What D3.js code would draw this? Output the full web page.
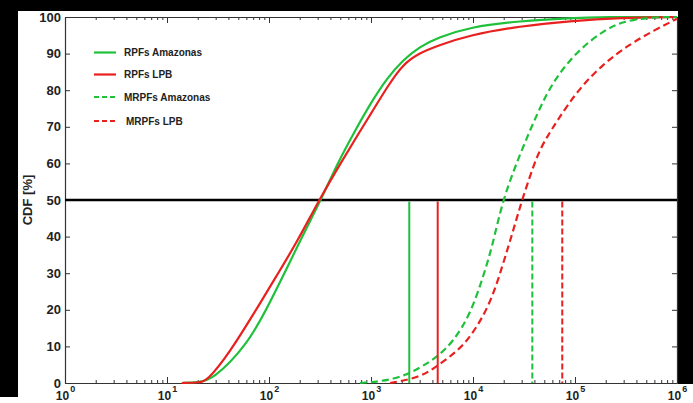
<!DOCTYPE html>
<html>
<head>
<meta charset="utf-8">
<script src="https://cdn.jsdelivr.net/npm/d3@7"></script>
<style>
  body { margin: 0; background: #fff; }
  svg { display: block; font-family: "Liberation Sans", Arial, sans-serif; }
  .axis path, .axis line { stroke: #333; }
  .axis text { font-weight: bold; fill: #222; }
</style>
</head>
<body>
<div id="chart"></div>
<script>
// CDF curves, values
var rpfAmazonasX = [14, 20, 28, 61, 96, 150, 215, 323, 464, 729, 980, 1435, 2060, 3020, 4440, 9340, 28900, 89500, 187000, 1e6];
var rpfAmazonasY = [0, 0.2, 0.8, 10.4, 20.5, 31.4, 40.4, 50, 59.8, 69.9, 76.2, 83.3, 88.3, 91.9, 94.3, 97.3, 98.9, 99.7, 100, 100];

var rpfLpbX = [14, 20, 24.7, 41.5, 69.7, 120, 188, 310, 497, 780, 980, 1435, 2060, 3020, 4440, 9340, 28900, 89500, 277000, 1e6];
var rpfLpbY = [0, 0.1, 0.4, 8.5, 18.6, 29.5, 38.5, 50, 59.8, 68.8, 73.2, 80.8, 87.2, 90.2, 92.1, 95.1, 97.5, 98.9, 99.8, 100];

var mrpfAmazonasX = [780, 1720, 3020, 4440, 6370, 9340, 12500, 15700, 19500, 28900, 42400, 60800, 105000, 188000, 296000, 582000, 1e6];
var mrpfAmazonasY = [0, 0.8, 4.1, 7.1, 11.2, 18.6, 28.7, 38, 50, 62.6, 73.5, 82.5, 90.7, 96.2, 98.9, 100, 100];

var mrpfLpbX = [1540, 3020, 4440, 6670, 9340, 14700, 19700, 24700, 30200, 42400, 53100, 66700, 105000, 188000, 347000, 582000, 1e6];
var mrpfLpbY = [0, 1.5, 4.6, 8.2, 12.3, 21.3, 32.5, 41.5, 50, 62.3, 67.2, 71.6, 79.8, 87.2, 92.6, 96.2, 99.5];

// vertical marker lines (from 0 to 50 %)
var markerX = [2373, 4508, 38150, 75000];

var seriesNames = ["RPFs Amazonas", "RPFs LPB", "MRPFs Amazonas", "MRPFs LPB"];
var yTicks = [0, 10, 20, 30, 40, 50, 60, 70, 80, 90, 100];
var xMajor = [1, 10, 100, 1000, 10000, 100000, 1000000];

var green = "#1fc13b", red = "#e8211f";
var series = [
  { name: seriesNames[0], xs: rpfAmazonasX, ys: rpfAmazonasY, color: green, dash: null },
  { name: seriesNames[1], xs: rpfLpbX, ys: rpfLpbY, color: red, dash: null },
  { name: seriesNames[2], xs: mrpfAmazonasX, ys: mrpfAmazonasY, color: green, dash: "7,4" },
  { name: seriesNames[3], xs: mrpfLpbX, ys: mrpfLpbY, color: red, dash: "7,4" }
];

var W = 693, H = 403;
var plotLeft = 65, plotRight = 677, plotTop = 17, plotBottom = 383;

var svg = d3.select("#chart").append("svg").attr("width", W).attr("height", H);

// black frame pieces of the original screenshot
svg.append("rect").attr("x", 0).attr("y", 0).attr("width", W).attr("height", 11).attr("fill", "#000");
svg.append("rect").attr("x", 0).attr("y", 0).attr("width", 18).attr("height", 397).attr("fill", "#000");
svg.append("rect").attr("x", 678).attr("y", 0).attr("width", 15).attr("height", 384).attr("fill", "#000");

var x = d3.scaleLog().domain([1, 1e6]).range([plotLeft, plotRight]);
var y = d3.scaleLinear().domain([0, 100]).range([plotBottom, plotTop]);

// minor x ticks
var xMinor = [];
for (var d = 0; d < 6; d++) {
  for (var k = 2; k <= 9; k++) xMinor.push(k * Math.pow(10, d));
}

svg.append("g").attr("class", "axis")
  .attr("transform", "translate(0," + plotBottom + ")")
  .call(d3.axisBottom(x).tickValues(xMinor).tickSize(-3).tickSizeOuter(0).tickFormat(""));
svg.append("g").attr("class", "axis")
  .attr("transform", "translate(0," + plotTop + ")")
  .call(d3.axisTop(x).tickValues(xMinor).tickSize(-3).tickSizeOuter(0).tickFormat(""));

var xAxis = svg.append("g").attr("class", "axis")
  .attr("transform", "translate(0," + plotBottom + ")")
  .call(d3.axisBottom(x).tickValues(xMajor).tickSize(-6).tickSizeOuter(0).tickFormat(""));
svg.append("g").attr("class", "axis")
  .attr("transform", "translate(0," + plotTop + ")")
  .call(d3.axisTop(x).tickValues(xMajor).tickSize(-6).tickSizeOuter(0).tickFormat(""));

// x labels as 10^n
xAxis.selectAll(".tick text").remove();
xAxis.selectAll(".tick").append("text")
  .attr("y", 17)
  .attr("text-anchor", "middle")
  .attr("fill", "#222")
  .style("font-size", "12px")
  .each(function(v) {
    var t = d3.select(this);
    t.append("tspan").text("10");
    t.append("tspan").attr("dy", -8).attr("dx", 1).style("font-size", "9px")
      .text(Math.round(Math.log10(v)));
  });

svg.append("g").attr("class", "axis")
  .attr("transform", "translate(" + plotLeft + ",0)")
  .call(d3.axisLeft(y).tickValues(yTicks).tickSize(-5).tickSizeOuter(0).tickPadding(4))
  .selectAll("text").style("font-size", "13px");
svg.append("g").attr("class", "axis")
  .attr("transform", "translate(" + plotRight + ",0)")
  .call(d3.axisRight(y).tickValues(yTicks).tickSize(-5).tickSizeOuter(0).tickFormat(""));

svg.selectAll(".axis .domain").attr("stroke-width", 1.2);

// 50 % line
svg.append("line")
  .attr("x1", plotLeft).attr("x2", plotRight)
  .attr("y1", y(50)).attr("y2", y(50))
  .attr("stroke", "#000").attr("stroke-width", 2.6);

// curves (basis spline smooths the hand-read points)
var line = d3.line()
  .x(function(p) { return x(p[0]); })
  .y(function(p) { return y(p[1]); })
  .curve(d3.curveBasis);

series.forEach(function(s) {
  var pts = s.xs.map(function(v, i) { return [v, s.ys[i]]; });
  svg.append("path")
    .datum(pts)
    .attr("d", line)
    .attr("fill", "none")
    .attr("stroke", s.color)
    .attr("stroke-width", 2.2)
    .attr("stroke-dasharray", s.dash);
});

// markers
svg.selectAll(".marker")
  .data(markerX)
  .enter()
  .append("line")
  .attr("class", "marker")
  .attr("x1", function(v) { return x(v); })
  .attr("x2", function(v) { return x(v); })
  .attr("y1", y(50) + 1.5)
  .attr("y2", y(0))
  .attr("stroke", function(v, i) { return series[i].color; })
  .attr("stroke-width", 2)
  .attr("stroke-dasharray", function(v, i) { return series[i].dash ? "6,3" : null; });

// legend
var legendY = [52.5, 74.5, 97, 121];
series.forEach(function(s, i) {
  svg.append("line")
    .attr("x1", 94).attr("x2", 116)
    .attr("y1", legendY[i]).attr("y2", legendY[i])
    .attr("stroke", s.color)
    .attr("stroke-width", 2.2)
    .attr("stroke-dasharray", s.dash ? "5,3" : null);
  svg.append("text")
    .attr("x", i == 3 ? 126 : 124)
    .attr("y", legendY[i])
    .attr("dy", "0.35em")
    .style("font-size", "10px")
    .style("font-weight", "bold")
    .attr("fill", "#222")
    .text(s.name);
});

// y axis title
svg.append("text")
  .attr("transform", "translate(32,200) rotate(-90)")
  .attr("text-anchor", "middle")
  .style("font-size", "13px")
  .style("font-weight", "bold")
  .attr("fill", "#222")
  .text("CDF [%]");
</script>
</body>
</html>
